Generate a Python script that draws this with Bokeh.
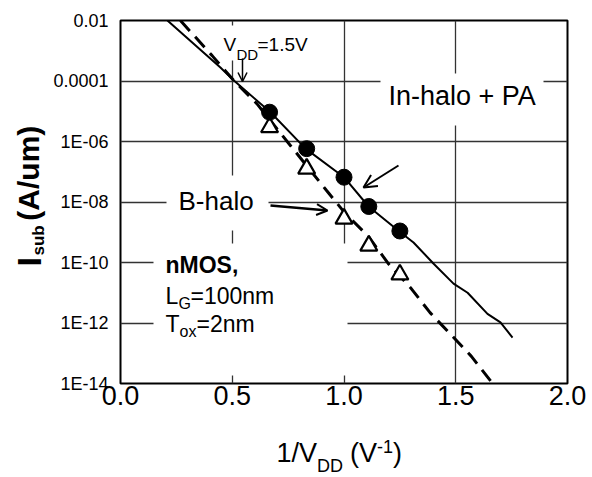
import math
from bokeh.plotting import figure
from bokeh.layouts import row, column
from bokeh.models import (Range1d, FixedTicker, CustomJSTickFormatter, NumeralTickFormatter,
                          Label, Arrow, OpenHead, BoxAnnotation)
from bokeh.embed import file_html
from bokeh.resources import INLINE

# ---------------- data ----------------
# measured points, x = 1/VDD (1/V), y = Isub (A/um)
inhalo_x = [0.667, 0.833, 1.0, 1.111, 1.25]
inhalo_y = [9.3e-6, 5.8e-7, 6.6e-8, 7.1e-9, 1.1e-9]
bhalo_x = [0.667, 0.833, 1.0, 1.111, 1.25]
bhalo_y = [2.95e-6, 1.26e-7, 2.8e-9, 3.6e-10, 4.0e-11]

# In-halo + PA curve (solid)
inhalo_fit_x = [0.21, 0.447, 0.506, 0.671, 0.828, 1.0, 1.11, 1.245, 1.311, 1.40, 1.49,
                1.553, 1.642, 1.70, 1.754]
inhalo_fit_y = [1.0e-2, 2.8e-4, 1.05e-4, 9.3e-6, 5.8e-7, 6.6e-8, 7.1e-9, 1.1e-9, 4.6e-10,
                9.3e-11, 2.0e-11, 1.0e-11, 2.0e-12, 1.05e-12, 3.3e-13]
# B-halo curve (dashed)
bhalo_fit_x = [0.268, 0.41, 0.506, 0.61, 0.76, 0.922, 1.0, 1.11, 1.2, 1.30, 1.385, 1.48,
               1.57, 1.665]
bhalo_fit_y = [1.0e-2, 6.9e-4, 1.05e-4, 1.78e-5, 7.4e-7, 2.4e-8, 4.7e-9, 7.1e-10, 8.9e-11,
               1.4e-11, 2.2e-12, 4.0e-13, 7.9e-14, 1.0e-14]

x_ticks = [0.0, 0.5, 1.0, 1.5, 2.0]
y_ticks = [1e-14, 1e-12, 1e-10, 1e-8, 1e-6, 1e-4, 1e-2]
y_tick_labels = ["1E-14", "1E-12", "1E-10", "1E-08", "1E-06", "0.0001", "0.01"]

FONT = "Liberation Sans"

# layout sizes (window pixels)
W_LEFT = 50      # strip holding the y title
H_TOP = 437      # main chart height
H_BOTTOM = 40    # strip holding the x title

# ---------------- main figure ----------------
p = figure(width=592 - W_LEFT, height=H_TOP, output_backend="svg", toolbar_location=None,
           y_axis_type="log", x_range=Range1d(0, 2), y_range=Range1d(1e-14, 1e-2),
           min_border_left=120 - W_LEFT, min_border_right=25, min_border_top=20,
           min_border_bottom=H_TOP - 383)
p.background_fill_color = "white"
p.border_fill_color = "white"
p.outline_line_color = "black"
p.outline_line_width = 2

xt = FixedTicker(ticks=x_ticks)
yt = FixedTicker(ticks=y_ticks)
p.xaxis.ticker = xt
p.yaxis.ticker = yt
p.xgrid.ticker = xt
p.ygrid.ticker = yt
for g in (p.xgrid, p.ygrid):
    g.grid_line_color = "#333333"
    g.grid_line_width = 1.3

p.xaxis.formatter = NumeralTickFormatter(format="0.0")
p.yaxis.formatter = CustomJSTickFormatter(args=dict(tvals=y_ticks, tlabels=y_tick_labels), code="""
const e = Math.round(Math.log10(tick));
for (let i = 0; i < tvals.length; i++) {
  if (Math.round(Math.log10(tvals[i])) == e) return tlabels[i];
}
return "";
""")
for ax in (p.xaxis, p.yaxis):
    ax.axis_line_color = None
    ax.major_tick_line_color = None
    ax.minor_tick_line_color = None
    ax.major_tick_in = 0
    ax.major_tick_out = 0
    ax.major_label_text_font = FONT
    ax.major_label_text_color = "black"
p.xaxis.major_label_text_font_size = "27px"
p.xaxis.major_label_standoff = 2
p.yaxis.major_label_text_font_size = "18px"
p.yaxis.major_label_standoff = 12

# helpers: window pixel -> data coordinates of the main frame (frame: x 120..567, y 20..383)
def px_x(px):
    return (px - 120) / 223.5

def px_y(py):
    return 10 ** (-2 - (py - 20) / 30.25)

# ---------------- data marks ----------------
p.line(inhalo_fit_x, inhalo_fit_y, line_color="black", line_width=2)
p.line(bhalo_fit_x, bhalo_fit_y, line_color="black", line_width=3, line_dash="14 8")
p.scatter(bhalo_x, bhalo_y, marker="triangle", size=17, fill_color="white",
          line_color="black", line_width=2.2)
p.scatter(inhalo_x, inhalo_y, marker="circle", size=16, fill_color="black", line_color="black")

# white boxes behind the annotation texts that interrupt the grid (they touch no data line)
for (l, r, t, b) in [(380, 543, 73, 125), (166, 268, 175, 230), (153, 347, 243, 375),
                     (220, 312, 25, 60)]:
    p.add_layout(BoxAnnotation(left=px_x(l), right=px_x(r), top=px_y(t), bottom=px_y(b),
                               fill_color="white", fill_alpha=1.0, line_color=None))


def add_text(fig, text, x, y, size, bold=False, angle=0.0):
    fig.add_layout(Label(x=x, y=y, text=text, text_font=FONT,
                         text_font_size=f"{size}px",
                         text_font_style="bold" if bold else "normal",
                         angle=angle, text_baseline="middle", text_align="left",
                         text_color="black"))

def main_text(text, px, py, size, bold=False):
    # (px, py): left end and vertical centre of the text, window pixels
    add_text(p, text, px_x(px), px_y(py), size, bold=bold)

main_text("In-halo + PA", 388, 95, 27)
main_text("B-halo", 178, 200, 26)
main_text("nMOS,", 165, 264, 23, bold=True)
main_text("L", 165, 295, 23)
main_text("G", 178, 303, 16)
main_text("=100nm", 190, 295, 23)
main_text("T", 165, 323.5, 23)
main_text("ox", 179, 331, 16)
main_text("=2nm", 196, 323.5, 23)
main_text("V", 223, 44, 19)
main_text("DD", 236, 54, 15)
main_text("=1.5V", 257, 44, 19)

# ---------------- arrows ----------------
p.add_layout(Arrow(x_start=px_x(242), y_start=px_y(58), x_end=px_x(242), y_end=px_y(81),
                   line_width=1.5, end=OpenHead(size=9, line_width=1.5)))
p.add_layout(Arrow(x_start=px_x(398), y_start=px_y(165), x_end=px_x(363), y_end=px_y(187),
                   line_width=2, end=OpenHead(size=13, line_width=2)))
p.add_layout(Arrow(x_start=px_x(270), y_start=px_y(205), x_end=px_x(327), y_end=px_y(210),
                   line_width=2.5, end=OpenHead(size=11, line_width=2)))

# ---------------- title strips (plain frames; data units = pixels) ----------------
def strip(w, h):
    f = figure(width=w, height=h, output_backend="svg", toolbar_location=None,
               x_axis_location=None, y_axis_location=None,
               x_range=Range1d(0, w), y_range=Range1d(0, h),
               min_border=0, min_border_left=0, min_border_right=0,
               min_border_top=0, min_border_bottom=0)
    f.outline_line_color = None
    f.xgrid.visible = False
    f.ygrid.visible = False
    f.background_fill_color = "white"
    f.border_fill_color = "white"
    return f

yfig = strip(W_LEFT, H_TOP)
def ytitle(text, px, py, size):
    add_text(yfig, text, px, H_TOP - py, size, bold=True, angle=math.pi / 2)

ytitle("I", 28, 296, 34)
ytitle("sub", 38, 283, 17)
ytitle("(A/um)", 28, 241, 30)

xfig = strip(592, H_BOTTOM)
def xtitle(text, px, py, size):
    add_text(xfig, text, px, 477 - py, size)

xtitle("1/V", 276, 452, 27)
xtitle("DD", 316.5, 465, 18)
xtitle("(V", 349.5, 452, 27)
xtitle("-1", 376.5, 446, 18)
xtitle(")", 392.5, 452, 27)

layout = column(row(yfig, p), xfig)
open("out.html", "w").write(file_html(layout, INLINE))
